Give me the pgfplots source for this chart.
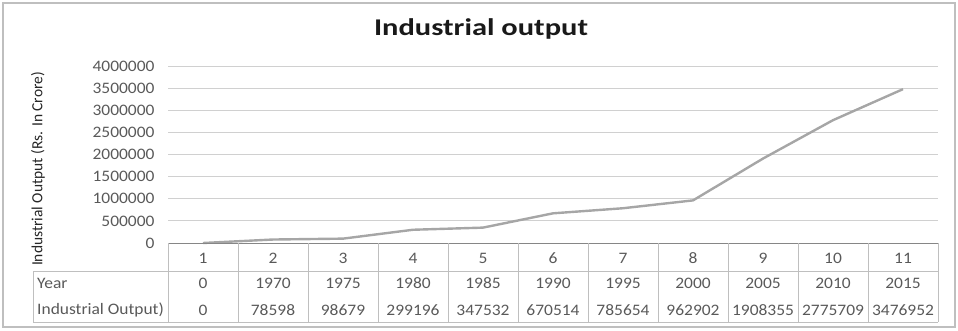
\documentclass[border=0pt]{standalone}
\usepackage{pgfplots}
\pgfplotsset{compat=1.18}
\usepackage{fontspec}
\setmainfont[FakeStretch=1.09]{Carlito}
\newfontfamily\titlefont[FakeStretch=1.27]{Carlito}
\newfontfamily\ylabfont{Carlito}
\definecolor{txt}{HTML}{595959}
\definecolor{gridc}{HTML}{D0D0D0}
\definecolor{tbl}{HTML}{BFBFBF}
\definecolor{ln}{HTML}{A6A6A6}
\definecolor{axc}{HTML}{868686}
\begin{document}
\begin{tikzpicture}[x=1pt,y=1pt]
\path[use as bounding box] (0,0) rectangle (958,330);
\draw[tbl, line width=1.2pt] (3,3) rectangle (955,327);
\begin{axis}[at={(168pt,87pt)}, anchor=south west, scale only axis,
  width=770pt, height=177pt,
  xmin=0.5, xmax=11.5, ymin=0, ymax=4000000,
  ytick={0,500000,1000000,1500000,2000000,2500000,3000000,3500000,4000000},
  xtick=\empty, scaled y ticks=false,
  axis line style={draw=none}, major tick length=0pt,
  ymajorgrids, grid style={gridc, line width=1pt},
  /pgf/number format/.cd, fixed, 1000 sep={}, assume math mode=true,
  /pgfplots/.cd,
  yticklabel style={font=\fontsize{16}{16}\selectfont, text=txt, xshift=-10pt},
  clip=false]
\addplot[ln, line width=2.4pt] coordinates {
(1,0) (2,78598) (3,98679) (4,299196) (5,347532) (6,670514)
(7,785654) (8,962902) (9,1908355) (10,2775709) (11,3476952)};
\end{axis}
% axis line and table
\draw[axc, line width=1pt] (168,87) -- (938,87);
\draw[tbl, line width=1pt] (33,59) -- (938,59);
\draw[tbl, line width=1pt] (33,8) -- (938,8);
\draw[tbl, line width=1pt] (33,59) -- (33,8);
\foreach \i in {0,...,11} {
  \draw[tbl, line width=1pt] ({168+70*\i},87) -- ({168+70*\i},8);
}
\foreach \i/\yr/\v in {1/0/0, 2/1970/78598, 3/1975/98679, 4/1980/299196, 5/1985/347532,
  6/1990/670514, 7/1995/785654, 8/2000/962902, 9/2005/1908355, 10/2010/2775709, 11/2015/3476952} {
  \node[text=txt, font=\fontsize{16}{16}\selectfont] at ({203+70*(\i-1)},72) {\i};
  \node[text=txt, font=\fontsize{16}{16}\selectfont] at ({203+70*(\i-1)},47) {\yr};
  \node[text=txt, font=\fontsize{16}{16}\selectfont] at ({203+70*(\i-1)},20) {\v};
}
\node[text=txt, font=\fontsize{16}{16}\selectfont, anchor=west, inner sep=0pt] at (37,47) {Year};
\node[text=txt, font=\fontsize{16}{16}\selectfont, anchor=west, inner sep=0pt] at (37,20) {Industrial Output)};
\node[font=\ylabfont\fontsize{15.5}{15.5}\selectfont, rotate=90, text=black!85] at (38,161) {Industrial Output (Rs. In Crore)};
\node[font=\titlefont\bfseries\fontsize{24}{24}\selectfont, text=black!90] at (481,301) {Industrial output};
\end{tikzpicture}
\end{document}
